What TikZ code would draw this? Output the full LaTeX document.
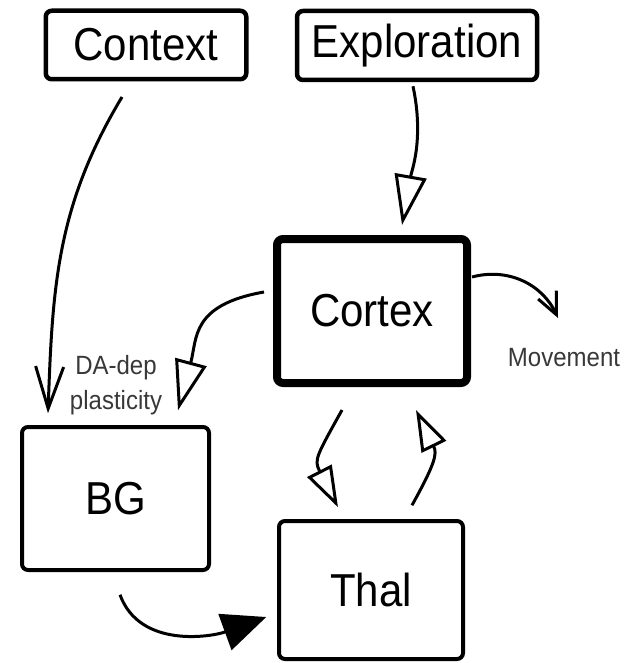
\documentclass[tikz,border=0pt]{standalone}
\usepackage{graphicx}
\usepackage{fontspec}
\setmainfont{Liberation Sans}
\usetikzlibrary{arrows.meta}
% slightly tall lettering used in the boxes and labels
\newcommand{\tallword}[1]{\scalebox{1}[1.1]{#1}}
\begin{document}
\begin{tikzpicture}[x=1pt,y=-1pt,
  box/.style={draw, rounded corners=6pt, line width=4.5pt, inner sep=0pt,
              font=\fontsize{42}{50}\selectfont},
  smalllabel/.style={inner sep=0pt, text=black!78, align=center,
              font=\fontsize{24}{35}\selectfont},
  link/.style={line width=3pt},
  hollowtip/.style={-{Triangle[open,length=50pt,width=32pt,line width=3pt]}},
  smallhollowtip/.style={-{Triangle[open,length=41pt,width=27pt,line width=3pt]}},
  solidtip/.style={-{Triangle[length=44pt,width=38pt]}},
  barbtip/.style={-{Straight Barb[length=42pt,width=28pt,line width=3pt]}},
  smallbarbtip/.style={-{Straight Barb[length=22pt,width=20pt,line width=3pt]}}]
\useasboundingbox (0,0) rectangle (627,663);

% boxes
\node[box, minimum width=200.5pt, minimum height=68.5pt] (ctx) at (146,45) {\tallword{Context}};
\node[box, minimum width=240pt, minimum height=69pt] (expl) at (417,45.5) {\tallword{Exploration}};
\node[box, line width=8pt, minimum width=190pt, minimum height=144pt] (cortex) at (372,311) {\tallword{Cortex}};
\node[box, line width=4pt, minimum width=187pt, minimum height=143pt] (bg) at (115.5,498.5) {\tallword{BG}};
\node[box, line width=4pt, minimum width=184pt, minimum height=138pt] (thal) at (371,590) {\tallword{Thal}};

% labels
\node[smalllabel] (mov) at (564,358) {\tallword{Movement}};
\node[smalllabel] (da) at (116,385) {\tallword{DA-dep}\\\tallword{plasticity}};
\coordinate (movtip) at (558,318);

% connectors
\draw[link, barbtip] ([xshift=-24pt,yshift=-15.5pt]ctx.south)
  to[out=239,in=88] ([xshift=-67.5pt,yshift=11.75pt]bg.north);
\draw[link, hollowtip] ([xshift=-4pt,yshift=-4pt]expl.south)
  to[out=282,in=80] ([xshift=30pt,yshift=10pt]cortex.north);
\draw[link, hollowtip] ([xshift=-9pt,yshift=19pt]cortex.west)
  to[out=190,in=75,looseness=1.3] ([xshift=62.5pt,yshift=14.75pt]bg.north);
\draw[link, smallhollowtip] ([xshift=-30pt,yshift=-23pt]cortex.south)
  to[out=241,in=117,looseness=1.4] ([xshift=-33pt,yshift=11.75pt]thal.north);
\draw[link, smallhollowtip] ([xshift=41pt,yshift=13.75pt]thal.north)
  to[out=61,in=296,looseness=1.3] ([xshift=44pt,yshift=-23pt]cortex.south);
\draw[link, solidtip] ([xshift=4.5pt,yshift=-22.75pt]bg.south)
  to[out=290,in=200] ([xshift=-10.75pt,yshift=-27pt]thal.west);
\draw[link, smallbarbtip] ([xshift=1pt,yshift=34pt]cortex.east)
  to[out=15,in=115] (movtip);
\end{tikzpicture}
\end{document}
